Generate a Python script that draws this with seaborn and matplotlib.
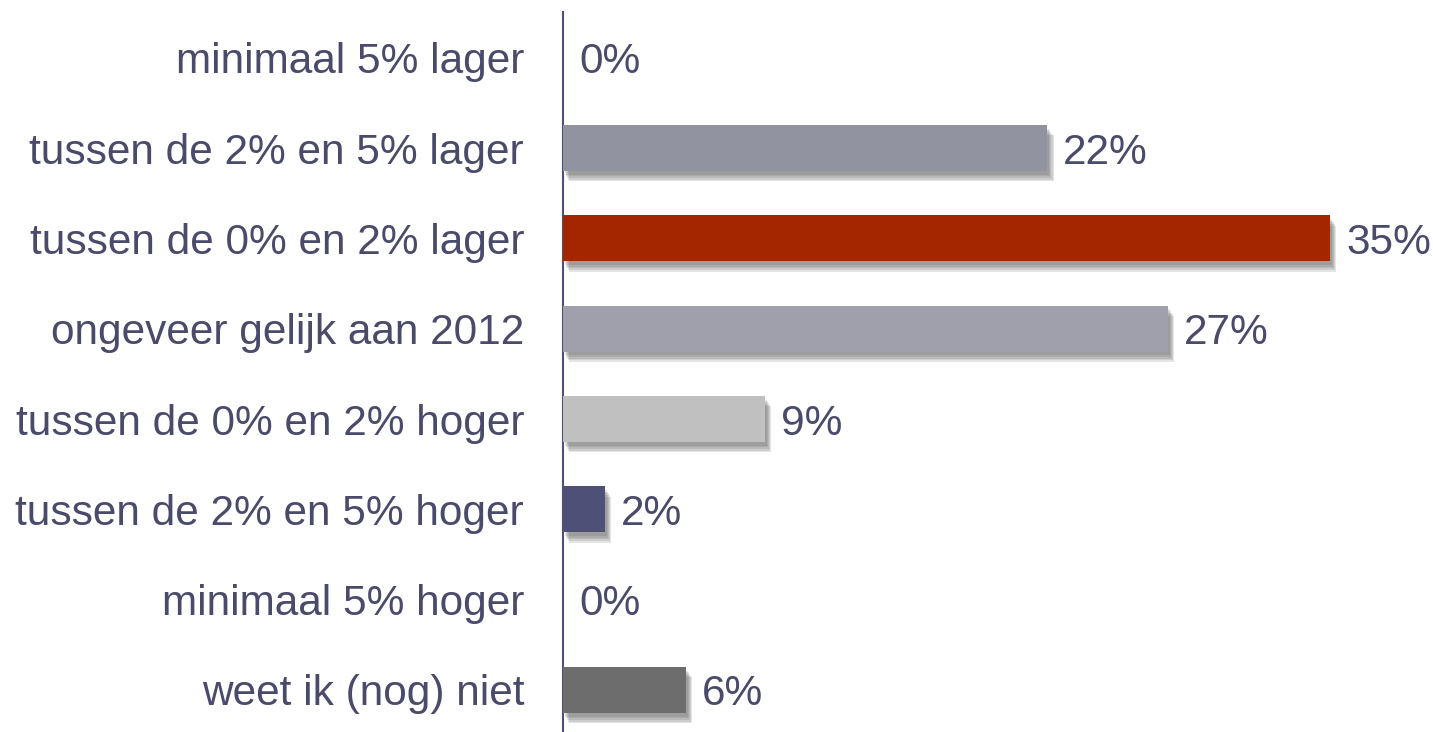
import matplotlib
matplotlib.use("Agg")
import matplotlib.pyplot as plt
import matplotlib.patheffects as pe
import pandas as pd
import seaborn as sns

# data
categorieen = ["minimaal 5% lager", "tussen de 2% en 5% lager",
               "tussen de 0% en 2% lager", "ongeveer gelijk aan 2012",
               "tussen de 0% en 2% hoger", "tussen de 2% en 5% hoger",
               "minimaal 5% hoger", "weet ik (nog) niet"]
percentages = [0, 22, 35, 27, 9, 2, 0, 6]
bar_waarden = [0, 22.1, 35.0, 27.6, 9.2, 1.9, 0, 5.6]
kleuren = ["#9193a0", "#9193a0", "#a32600", "#a0a0ad",
           "#c0c0c0", "#4f5078", "#6d6d6d", "#6d6d6d"]

TEKST = "#4a4b6b"

sns.set_theme(style="white")
plt.rcParams["font.family"] = ["Liberation Sans", "DejaVu Sans"]

df = pd.DataFrame({"categorie": categorieen, "waarde": bar_waarden})

fig = plt.figure(figsize=(14.33, 7.32), dpi=100)
ax = fig.add_axes([563 / 1433, 0, 870 / 1433, 720 / 732])

sns.barplot(data=df, x="waarde", y="categorie", hue="categorie",
            palette=kleuren, legend=False, width=0.51, saturation=1,
            ax=ax, zorder=3)

# zachte schaduw: een paar lagen over elkaar
schaduw = [pe.SimplePatchShadow(offset=(ox, oy), shadow_rgbFace="#5a5a5a", alpha=0.16)
           for ox, oy in ((4.5, -7.5), (3.8, -6.3), (3.0, -5.0), (2.2, -3.8), (1.5, -2.6))]
schaduw.append(pe.Normal())
for bar in ax.patches:
    bar.set_path_effects(schaduw)
    bar.set_edgecolor("none")

for i, (w, p) in enumerate(zip(bar_waarden, percentages)):
    ax.annotate(f"{p}%", (w, i), xytext=(11.5, 0), textcoords="offset points",
                va="center_baseline", ha="left", fontsize=30.5, color=TEKST)

ax.set_xlim(0, 39.7)
ax.set_ylim(7.465, -0.506)
ax.set_xlabel("")
ax.set_ylabel("")
ax.set_xticks([])
for s in ["top", "right", "bottom"]:
    ax.spines[s].set_visible(False)
ax.spines["left"].set_color("#4f5077")
ax.spines["left"].set_linewidth(1.5)
ax.tick_params(axis="y", length=0, pad=28, labelsize=30.5, labelcolor=TEKST)

fig.savefig("out.png", dpi=100)
